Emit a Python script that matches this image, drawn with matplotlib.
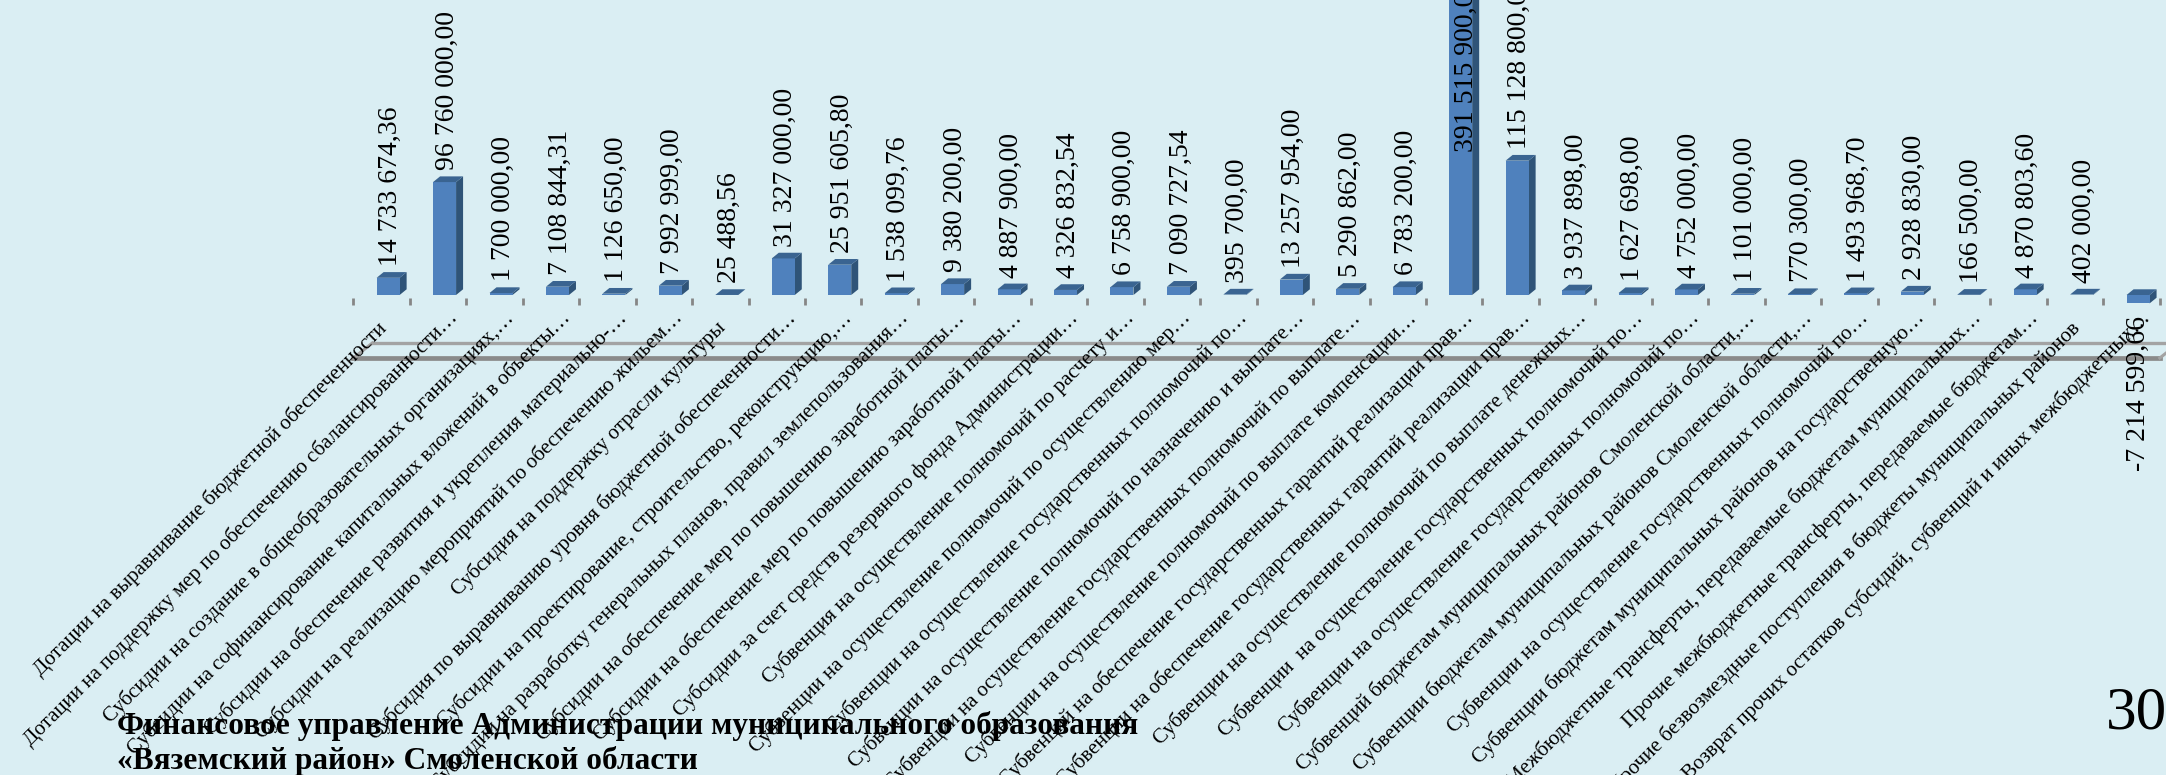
import numpy as np
import matplotlib
matplotlib.use("Agg")
import matplotlib.pyplot as plt
from matplotlib.patches import Polygon

categories = [
    "Дотации на выравнивание бюджетной обеспеченности",
    "Дотации на поддержку мер по обеспечению сбалансированности…",
    "Субсидии на создание в общеобразовательных организациях,…",
    "Субсидии на софинансирование капитальных вложений в объекты…",
    "Субсидии на обеспечение развития и укрепления материально-…",
    "Субсидии на реализацию мероприятий по обеспечению жильем…",
    "Субсидия на поддержку отрасли культуры",
    "Субсидия по выравниванию уровня бюджетной обеспеченности…",
    "Субсидии на проектирование, строительство, реконструкцию,…",
    "Субсидии на разработку генеральных планов, правил землепользования…",
    "Субсидии на обеспечение мер по повышению заработной платы…",
    "Субсидии на обеспечение мер по повышению заработной платы…",
    "Субсидии за счет средств резервного фонда Администрации…",
    "Субвенция на осуществление полномочий по расчету и…",
    "Субвенции на осуществление полномочий по осуществлению мер…",
    "Субвенции на осуществление государственных полномочий по…",
    "Субвенции на осуществление полномочий по назначению и выплате…",
    "Субвенции на осуществление государственных полномочий по выплате…",
    "Субвенции на осуществление полномочий по выплате компенсации…",
    "Субвенций на обеспечение государственных гарантий реализации прав…",
    "Субвенции на обеспечение государственных гарантий реализации прав…",
    "Субвенции на осуществление полномочий по выплате денежных…",
    "Субвенции  на осуществление государственных полномочий по…",
    "Субвенции на осуществление государственных полномочий по…",
    "Субвенций бюджетам муниципальных районов Смоленской области,…",
    "Субвенции бюджетам муниципальных районов Смоленской области,…",
    "Субвенции на осуществление государственных полномочий по…",
    "Субвенции бюджетам муниципальных районов на государственную…",
    "Межбюджетные трансферты, передаваемые бюджетам муниципальных…",
    "Прочие межбюджетные трансферты, передаваемые бюджетам…",
    "Прочие безвозмездные поступления в бюджеты муниципальных районов",
    "Возврат прочих остатков субсидий, субвенций и иных межбюджетных…",
]

values = [
    14733674.36, 96760000.00, 1700000.00, 7108844.31, 1126650.00, 7992999.00,
    25488.56, 31327000.00, 25951605.80, 1538099.76, 9380200.00, 4887900.00,
    4326832.54, 6758900.00, 7090727.54, 395700.00, 13257954.00, 5290862.00,
    6783200.00, 391515900.00, 115128800.00, 3937898.00, 1627698.00, 4752000.00,
    1101000.00, 770300.00, 1493968.70, 2928830.00, 166500.00, 4870803.60,
    402000.00, -7214599.66,
]

footer_lines = ["Финансовое управление Администрации муниципального образования",
                "«Вяземский район» Смоленской области"]
page_number = "30"

W, H = 2166, 775
SLOT = 56.45      # px per category
PX_PER_M = 1.167  # px per million
ZERO_Y = 295
LEFT = 353.4


def fmt(v):
    s = f"{abs(v):,.2f}".replace(",", " ").replace(".", ",")
    return ("-" + s) if v < 0 else s


def py(px):
    # pixels down from the zero line, in axis units
    return px / PX_PER_M * 1e6


def sx(px):
    return px / SLOT


plt.rcParams['font.family'] = ['Liberation Serif', 'DejaVu Serif']

fig = plt.figure(figsize=(W / 100, H / 100), dpi=100, facecolor="#DAEEF3")
ax = fig.add_axes([0, 0, 1, 1])
ax.set_facecolor("#DAEEF3")
ax.set_xlim(-(LEFT + SLOT / 2) / SLOT, (W - LEFT - SLOT / 2) / SLOT)
ax.set_ylim(-py(H - ZERO_Y), py(ZERO_Y))
ax.axis("off")

x = np.arange(len(values))

# floor of the 3d chart
front_y = -py(63)
back_y = -py(48)
lx, rx = -0.5, len(values) - 0.5
shift = sx(19)
ax.plot([lx + shift, rx + shift], [back_y, back_y], color="#a3a3a3", lw=2.4, zorder=1)
ax.plot([lx, rx], [front_y, front_y], color="#8a8a8a", lw=3.4, zorder=1)
ax.plot([lx, lx + shift], [front_y, back_y], color="#a3a3a3", lw=2.2, zorder=1)
ax.plot([rx, rx + shift], [front_y, back_y], color="#a3a3a3", lw=2.2, zorder=1)

# tick marks between categories
ax.vlines(np.arange(len(values) + 1) - 0.5, -py(10), -py(3), color="#868686", lw=2, zorder=1)

# bars, with side and top faces for the 3d look
bar_w = sx(23)
bar_off = sx(6.5)
dx = sx(7)
dy = py(5.7)
ax.bar(x + bar_off, values, width=bar_w, color="#4F81BD", zorder=3)
for i, v in enumerate(values):
    c = i + bar_off
    l, r = c - bar_w / 2, c + bar_w / 2
    hi = max(v, 0)
    lo = min(v, 0)
    ax.add_patch(Polygon([(r, lo), (r + dx, lo + dy), (r + dx, hi + dy), (r, hi)],
                         closed=True, fc="#2F5478", ec="none", zorder=2))
    ax.add_patch(Polygon([(l, hi), (l + dx, hi + dy), (r + dx, hi + dy), (r, hi)],
                         closed=True, fc="#3A6491", ec="none", zorder=4))

# value labels
for i, v in enumerate(values):
    c = i + bar_off + sx(2.5)
    if v < 0:
        ax.text(c - sx(2.5), v - py(13), fmt(v), rotation=90, ha="center", va="top", fontsize=20, color="black", zorder=6)
    elif v > 300e6:
        # the tallest bar runs off the slide, its label sits inside it
        ax.text(c + sx(3), py(143), fmt(v), rotation=90, ha="center", va="bottom", fontsize=20, color="black", zorder=6)
    else:
        ax.text(c, v + dy + py(6), fmt(v), rotation=90, ha="center", va="bottom", fontsize=20, color="black", zorder=6)

# category labels, the ones without an ellipsis sit a bit further down the slope
for i, name in enumerate(categories):
    if name.endswith("…"):
        ox, oy = 9, 13
    else:
        ox, oy = -5, 23
    ax.text(i + sx(ox), -py(oy), name, rotation=45, rotation_mode="anchor",
            ha="right", va="top", fontsize=15.1, color="black", zorder=5, clip_on=True)

fig.text(117 / W, 1 - 726 / H, footer_lines[0], fontsize=22.6, fontweight="bold", va="center", color="black", zorder=10)
fig.text(117 / W, 1 - 761 / H, footer_lines[1], fontsize=22.6, fontweight="bold", va="center", color="black", zorder=10)
fig.text(2106 / W, 1 - 714 / H, page_number, fontsize=44, va="center", color="black", zorder=10)

fig.savefig("out.png", dpi=100, facecolor=fig.get_facecolor())
